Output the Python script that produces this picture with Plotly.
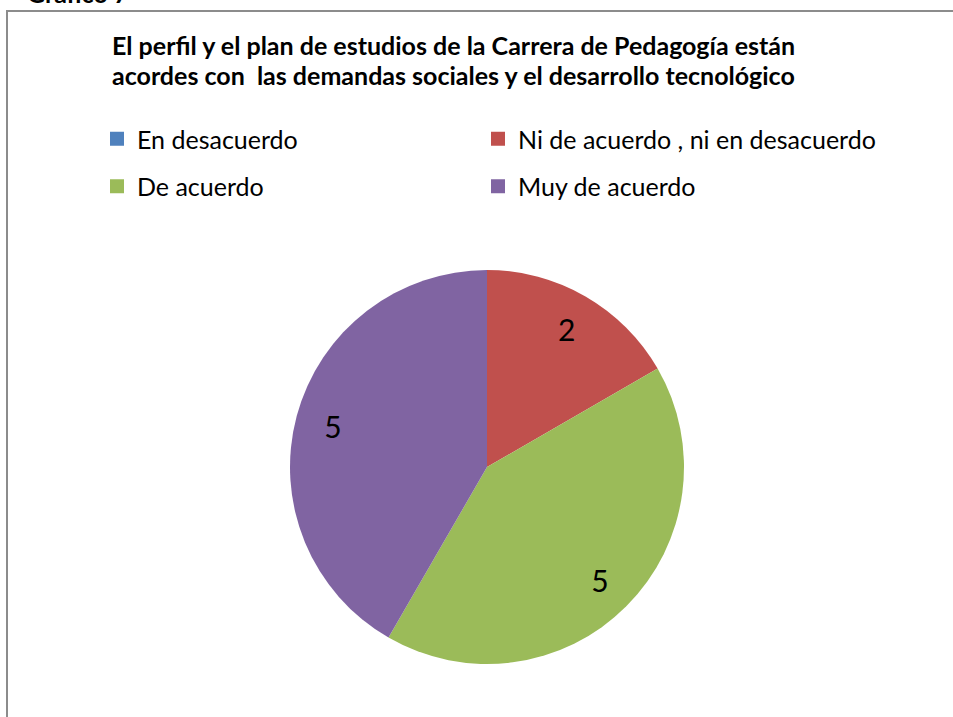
import plotly.graph_objects as go

W, H = 953, 717

categories = ["En desacuerdo", "Ni de acuerdo , ni en desacuerdo", "De acuerdo", "Muy de acuerdo"]
values = [0, 2, 5, 5]
colors = ["#4F81BD", "#C0504D", "#9BBB59", "#8064A2"]
title_lines = ["El perfil y el plan de estudios de la Carrera de Pedagogía están",
               "acordes con  las demandas sociales y el desarrollo tecnológico"]
caption = "Gráfico 7"

FONT = "Lato, 'Liberation Sans', sans-serif"


def px(x):
    return x / W


def py(y):
    return 1 - y / H


labels_text = [str(v) if v > 0 else "" for v in values]
pie_domain = dict(x=[px(290), px(684)], y=[py(664), py(270)])

fig = go.Figure()
# slices
fig.add_trace(go.Pie(
    labels=categories,
    values=values,
    textinfo="none",
    marker=dict(colors=colors, line=dict(width=0)),
    sort=False,
    direction="clockwise",
    rotation=0,
    showlegend=False,
    domain=pie_domain,
    hoverinfo="label+value",
))
# data labels placed towards the rim (transparent ring carrying the text)
fig.add_trace(go.Pie(
    labels=categories,
    values=values,
    text=labels_text,
    textinfo="text",
    textposition="inside",
    insidetextorientation="horizontal",
    textfont=dict(family=FONT, size=30, color="black"),
    marker=dict(colors=["rgba(0,0,0,0)"] * len(values), line=dict(width=0)),
    hole=0.62,
    sort=False,
    direction="clockwise",
    rotation=0,
    showlegend=False,
    domain=pie_domain,
    hoverinfo="skip",
))

# legend entries (two columns, Excel-like layout)
legend_of = ["legend", "legend2", "legend", "legend2"]
for i, (cat, col) in enumerate(zip(categories, colors)):
    fig.add_trace(go.Scatter(
        x=[None], y=[None], mode="markers", name=cat,
        marker=dict(symbol="square", size=14, color=col),
        legend=legend_of[i], legendgroup=f"g{i}", showlegend=True,
    ))

legend_common = dict(
    orientation="v", bgcolor="rgba(0,0,0,0)", borderwidth=0,
    font=dict(family=FONT, size=25, color="black"),
    tracegroupgap=12, yanchor="top", xanchor="left", itemclick=False,
)
fig.update_layout(
    legend=dict(x=px(97), y=py(116), **legend_common),
    legend2=dict(x=px(478), y=py(116), **legend_common),
)

annotations = [
    dict(text=f"<b>{title_lines[0]}</b>", x=px(110), y=py(45)),
    dict(text=f"<b>{title_lines[1]}</b>", x=px(110), y=py(75)),
    dict(text=f"<b>{caption}</b>", x=px(25), y=py(-7)),
]
for a in annotations:
    a.update(xref="paper", yref="paper", xanchor="left", yanchor="middle",
             showarrow=False, align="left",
             font=dict(family=FONT, size=25, color="black"))

fig.update_layout(
    width=W, height=H,
    margin=dict(l=0, r=0, t=0, b=0),
    paper_bgcolor="white", plot_bgcolor="white",
    xaxis=dict(visible=False, domain=[0, 0.01]),
    yaxis=dict(visible=False, domain=[0, 0.01]),
    annotations=annotations,
    shapes=[dict(type="rect", xref="paper", yref="paper",
                 x0=px(7), x1=1.05, y0=-0.05, y1=py(11),
                 line=dict(color="#8C8C8C", width=2), fillcolor="rgba(0,0,0,0)")],
    showlegend=True,
)

fig.write_html("out.html", config={"displayModeBar": False},
               post_script="document.body.style.margin='0px';")
